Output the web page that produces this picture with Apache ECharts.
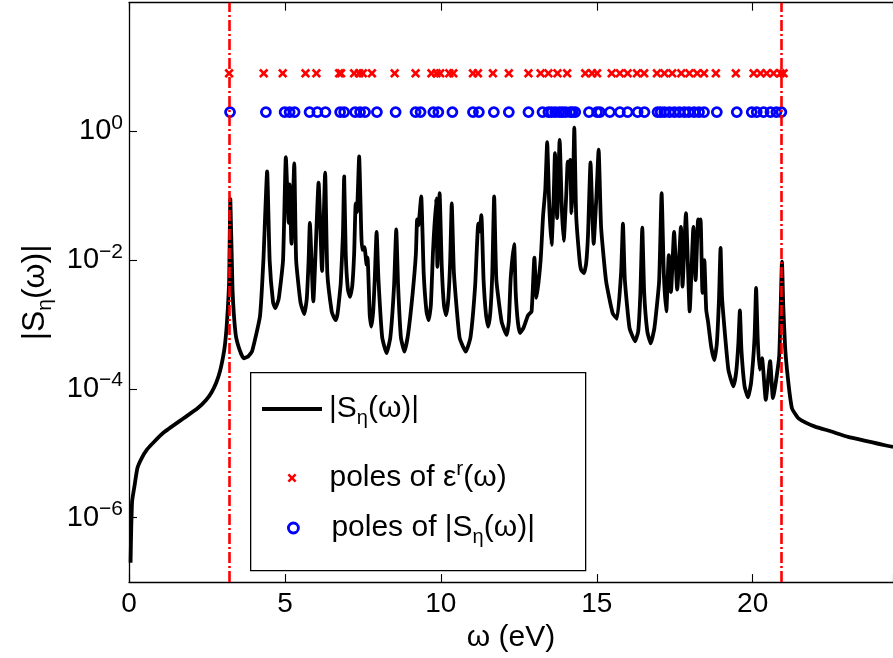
<!DOCTYPE html>
<html>
<head>
<meta charset="utf-8">
<script src="https://cdn.jsdelivr.net/npm/echarts@6/dist/echarts.min.js"></script>
<style>
  html, body { margin: 0; padding: 0; background: #fff; }
  #chart { width: 893px; height: 658px; }
</style>
</head>
<body>
<div id="chart"></div>
<script>
// ---- data: [omega (eV), |S_eta(omega)|] ----
const spectrum = [
  [0.05, 2.0e-7], [0.07, 6.3e-7], [0.10, 1.8e-6], [0.18, 3.2e-6], [0.27, 5.9e-6], [0.40, 8.3e-6],
  [0.58, 1.15e-5], [0.80, 1.5e-5], [1.11, 2.1e-5], [1.75, 3.5e-5], [2.20, 5.0e-5], [2.48, 6.8e-5],
  [2.65, 8.9e-5], [2.80, 1.26e-4], [2.92, 1.9e-4], [3.02, 3.2e-4], [3.08, 5.0e-4], [3.13, 9.1e-4],
  [3.17, 1.8e-3], [3.21, 4.6e-3], [3.25, 0.089], [3.32, 3.5e-3], [3.42, 7.1e-4], [3.55, 4.0e-4],
  [3.68, 3.0e-4], [3.82, 3.2e-4], [3.95, 3.9e-4], [4.20, 1.35e-3], [4.31, 0.010], [4.43, 0.24],
  [4.51, 0.010], [4.62, 2.2e-3], [4.69, 1.8e-3], [4.80, 2.5e-3], [4.94, 0.010], [5.03, 0.40],
  [5.12, 0.038], [5.15, 0.15], [5.21, 0.018], [5.30, 0.32], [5.36, 0.010], [5.50, 2.2e-3],
  [5.62, 1.45e-3], [5.70, 2.5e-3], [5.76, 0.010], [5.80, 0.038], [5.91, 2.3e-3], [6.08, 0.16],
  [6.19, 6.8e-3], [6.29, 0.23], [6.36, 6.3e-3], [6.50, 1.6e-3], [6.57, 1.3e-3], [6.63, 1.17e-3],
  [6.68, 1.4e-3], [6.72, 2.0e-3], [6.79, 4.4e-3], [6.86, 0.025], [6.90, 0.20], [6.95, 0.0126],
  [7.02, 3.5e-3], [7.09, 2.7e-3], [7.16, 4.0e-3], [7.22, 0.0126], [7.27, 0.076], [7.31, 0.056],
  [7.38, 0.41], [7.45, 0.025], [7.48, 0.0145], [7.55, 0.016], [7.62, 8.5e-3], [7.65, 0.011],
  [7.72, 1.4e-3], [7.77, 9.3e-4], [7.83, 1.6e-3], [7.88, 5.0e-3], [7.94, 0.0275], [8.00, 5.0e-3],
  [8.12, 6.3e-4], [8.26, 3.6e-4], [8.38, 6.3e-4], [8.50, 4.0e-3], [8.57, 0.030], [8.63, 4.0e-3],
  [8.72, 6.3e-4], [8.83, 3.8e-4], [8.95, 7.1e-4], [9.10, 3.2e-3], [9.20, 0.0126], [9.24, 0.043],
  [9.28, 0.035], [9.37, 0.098], [9.45, 6.3e-3], [9.54, 1.6e-3], [9.61, 1.17e-3], [9.68, 2.0e-3],
  [9.75, 0.014], [9.85, 0.091], [9.89, 7.9e-3], [9.96, 0.11], [10.03, 7.9e-3], [10.10, 2.0e-3],
  [10.17, 1.4e-3], [10.24, 2.5e-3], [10.30, 0.010], [10.35, 0.076], [10.42, 6.3e-3], [10.60, 6.3e-4],
  [10.80, 3.8e-4], [10.95, 6.3e-4], [11.10, 4.0e-3], [11.20, 0.037], [11.24, 0.028], [11.30, 0.050],
  [11.37, 5.0e-3], [11.45, 1.4e-3], [11.52, 9.3e-4], [11.59, 1.6e-3], [11.65, 6.3e-3], [11.71, 0.098],
  [11.78, 5.0e-3], [11.95, 1.1e-3], [12.11, 6.9e-4], [12.18, 1.1e-3], [12.24, 5.2e-3], [12.35, 0.0178],
  [12.40, 3.2e-3], [12.47, 1.1e-3], [12.54, 7.4e-4], [12.65, 8.9e-4], [12.80, 1.4e-3], [12.91, 1.6e-3],
  [13.00, 0.011], [13.07, 2.6e-3], [13.20, 0.010], [13.28, 0.050], [13.35, 0.126], [13.41, 0.68],
  [13.48, 0.063], [13.55, 0.0174], [13.62, 0.10], [13.66, 0.46], [13.73, 0.045], [13.81, 0.74],
  [13.88, 0.063], [13.94, 0.020], [14.02, 0.10], [14.07, 0.34], [14.11, 0.20], [14.15, 0.36],
  [14.19, 0.054], [14.24, 0.16], [14.28, 1.15], [14.34, 0.050], [14.45, 0.010], [14.50, 7.1e-3],
  [14.59, 6.3e-3], [14.66, 8.9e-3], [14.72, 0.025], [14.80, 0.33], [14.86, 0.050], [14.90, 0.018],
  [14.99, 0.10], [15.06, 0.52], [15.14, 0.032], [15.30, 4.7e-3], [15.51, 1.5e-3], [15.65, 1.23e-3],
  [15.78, 6.3e-3], [15.84, 0.037], [15.90, 5.0e-3], [16.05, 8.9e-4], [16.23, 5.5e-4], [16.33, 7.9e-4],
  [16.40, 3.2e-3], [16.46, 0.032], [16.52, 3.2e-3], [16.62, 7.9e-4], [16.73, 5.1e-4], [16.85, 8.9e-4],
  [17.00, 4.7e-3], [17.08, 0.11], [17.15, 6.3e-3], [17.23, 1.6e-3], [17.31, 0.012], [17.38, 3.2e-3],
  [17.48, 0.0275], [17.58, 3.5e-3], [17.70, 0.033], [17.75, 3.9e-3], [17.86, 0.054], [17.98, 1.6e-3],
  [18.10, 0.033], [18.17, 4.9e-3], [18.25, 0.043], [18.29, 0.025], [18.33, 0.043], [18.39, 3.1e-3],
  [18.45, 0.010], [18.51, 1.7e-3], [18.57, 1.1e-3], [18.67, 4.5e-4], [18.77, 2.8e-4], [18.85, 5.0e-4],
  [18.92, 2.5e-3], [18.97, 0.0155], [19.02, 2.5e-3], [19.22, 2.0e-4], [19.38, 1.1e-4], [19.47, 1.8e-4],
  [19.54, 5.0e-4], [19.59, 1.66e-3], [19.64, 4.0e-4], [19.74, 1.1e-4], [19.85, 7.4e-5], [19.95, 1.26e-4],
  [20.06, 6.3e-4], [20.11, 3.7e-3], [20.16, 6.3e-4], [20.22, 2.0e-4], [20.30, 3.0e-4], [20.42, 6.8e-5],
  [20.56, 2.7e-4], [20.65, 7.2e-5], [20.85, 3.2e-4], [20.94, 9.5e-3], [20.98, 2.0e-3], [21.04, 4.5e-4],
  [21.10, 2.0e-4], [21.18, 8.9e-5], [21.26, 5.0e-5], [21.35, 4.2e-5], [21.47, 3.5e-5], [21.70, 3.0e-5],
  [22.00, 2.6e-5], [22.50, 2.2e-5], [23.06, 1.8e-5], [24.35, 1.3e-5], [24.50, 1.26e-5]
];
const epsPoles = [
  3.21, 4.32, 4.93, 5.66, 6.01, 6.74, 6.80, 7.22, 7.38, 7.50, 7.79, 8.52, 9.19, 9.70, 9.86, 9.98,
  10.27, 10.40, 11.03, 11.19, 11.67, 12.18, 12.81, 13.20, 13.45, 13.74, 14.05, 14.63, 14.85, 15.01, 15.48, 15.74,
  15.99, 16.29, 16.52, 16.93, 17.17, 17.42, 17.71, 17.97, 18.22, 18.44, 18.82, 19.46, 20.03, 20.25, 20.45, 20.67,
  20.89, 20.99
];
const sPoles = [
  3.24, 4.39, 4.99, 5.15, 5.31, 5.79, 6.04, 6.30, 6.77, 6.90, 7.25, 7.41, 7.57, 7.95, 8.55, 9.19,
  9.35, 9.76, 9.92, 10.37, 11.03, 11.22, 11.70, 12.18, 12.81, 13.26, 13.45, 13.55, 13.67, 13.80, 13.90, 14.00,
  14.15, 14.22, 14.31, 14.75, 15.01, 15.10, 15.42, 15.74, 15.99, 16.31, 16.53, 16.95, 17.05, 17.17, 17.33, 17.49,
  17.65, 17.81, 17.95, 18.12, 18.28, 18.44, 18.85, 19.49, 19.97, 20.13, 20.35, 20.57, 20.76, 20.92
];
const epsPoleLevel = 8;     // height at which the eps poles are marked
const sPoleLevel = 2;       // height at which the S poles are marked
const bandEdges = [3.22, 20.93];
const xTicks = [0, 5, 10, 15, 20];
const yTickValues = [1e-6, 1e-4, 1e-2, 1];

// ---- build ----
const FONT = 'Liberation Sans';
const epsData = epsPoles.map(x => [x, epsPoleLevel]);
const sData = sPoles.map(x => [x, sPoleLevel]);
const crossPath = 'path://M0,2 L2,0 L5,3 L8,0 L10,2 L7,5 L10,8 L8,10 L5,7 L2,10 L0,8 L3,5 Z';

const names = {
  s: '|S\u03b7(\u03c9)|',
  eps: 'poles of \u03b5r(\u03c9)',
  sp: 'poles of |S\u03b7(\u03c9)|'
};
const rich = {
  sub: { fontSize: 20, fontFamily: FONT, color: '#000', padding: [19, 0, 0, 0] },
  sup: { fontSize: 21, fontFamily: FONT, color: '#000', padding: [0, 0, 17, 0] }
};
function legendLabel(name) {
  if (name === names.s) return '|S{sub|\u03b7}(\u03c9)|';
  if (name === names.eps) return 'poles of \u03b5{sup|r}(\u03c9)';
  return 'poles of |S{sub|\u03b7}(\u03c9)|';
}
const legendText = { fontFamily: FONT, fontSize: 30, color: '#000', rich: rich };

const chart = echarts.init(document.getElementById('chart'), null, { renderer: 'canvas' });
chart.setOption({
  backgroundColor: '#fff',
  animation: false,
  grid: { left: 129, right: -9, top: 2.7, bottom: 75.7, show: false },
  graphic: [{
    type: 'rect', left: 250, top: 372, z: 50,
    shape: { width: 335, height: 198 },
    style: { fill: '#fff', stroke: '#000', lineWidth: 1.3 }
  }],
  legend: [
    {
      left: 262, top: 394, z: 60, padding: 0, selectedMode: false, itemGap: 0,
      itemWidth: 60, itemHeight: 4,
      data: [{ name: names.s, icon: 'rect', itemStyle: { color: '#000' } }],
      formatter: legendLabel,
      textStyle: Object.assign({ padding: [0, 0, 0, 2] }, legendText)
    },
    {
      left: 287.5, top: 459, z: 60, padding: 0, selectedMode: false, itemGap: 0,
      itemWidth: 9, itemHeight: 9,
      data: [{ name: names.eps, icon: crossPath, itemStyle: { color: '#ff0000', opacity: 1 } }],
      formatter: legendLabel,
      textStyle: Object.assign({ padding: [0, 0, 0, 28] }, legendText)
    },
    {
      left: 287, top: 513, z: 60, padding: 0, selectedMode: false, itemGap: 0,
      itemWidth: 10, itemHeight: 10,
      data: [{ name: names.sp, icon: 'circle',
               itemStyle: { color: 'rgba(0,0,0,0)', borderColor: '#0000ff', borderWidth: 2.8, opacity: 1 } }],
      formatter: legendLabel,
      textStyle: Object.assign({ padding: [0, 0, 0, 28] }, legendText)
    }
  ],
  xAxis: [
    {
      type: 'value', min: 0, max: 24.5, interval: 5,
      name: '\u03c9 (eV)', nameLocation: 'middle', nameGap: 39,
      nameTextStyle: { fontFamily: FONT, fontSize: 30, color: '#000' },
      axisLine: { show: true, onZero: false, lineStyle: { color: '#000', width: 1.3 } },
      axisTick: { show: true, inside: true, length: 8, lineStyle: { color: '#000', width: 1.1 } },
      axisLabel: { fontFamily: FONT, fontSize: 28, color: '#000', margin: 8,
                   customValues: xTicks },
      splitLine: { show: false }
    },
    {
      type: 'value', min: 0, max: 24.5, interval: 5, position: 'top',
      axisLine: { show: true, onZero: false, lineStyle: { color: '#000', width: 1.3 } },
      axisTick: { show: true, inside: true, length: 8, lineStyle: { color: '#000', width: 1.1 } },
      axisLabel: { show: false },
      splitLine: { show: false }
    }
  ],
  yAxis: {
    type: 'log', logBase: 10, min: 1e-7, max: 1e2,
    name: '|S{sub|\u03b7}(\u03c9)|', nameLocation: 'middle', nameGap: 72, nameRotate: 90,
    nameTextStyle: { fontFamily: FONT, fontSize: 32, color: '#000',
      rich: { sub: { fontSize: 21, fontFamily: FONT, color: '#000', padding: [20, 0, 0, 0] } } },
    axisLine: { show: true, onZero: false, lineStyle: { color: '#000', width: 1.3 } },
    axisTick: { show: true, inside: true, length: 8, lineStyle: { color: '#000', width: 1.1 },
                customValues: yTickValues },
    axisLabel: {
      fontFamily: FONT, fontSize: 29, color: '#000', margin: 6,
      customValues: yTickValues,
      formatter: function (v) {
        const e = Math.round(Math.log10(v));
        if (e % 2 !== 0 || e > 0 || e < -6) return '';
        return '10{sup|' + (e < 0 ? '\u2212' + (-e) : e) + '}';
      },
      rich: rich
    },
    splitLine: { show: false },
    minorTick: { show: false }
  },
  series: [
    {
      name: names.s, type: 'line', data: spectrum, showSymbol: false, symbol: 'none',
      smooth: 0.15,
      lineStyle: { color: '#000', width: 3.8, join: 'round' }, itemStyle: { color: '#000' },
      z: 2, silent: true
    },
    {
      name: names.eps, type: 'scatter', data: epsData, symbol: crossPath, symbolSize: 9.5,
      itemStyle: { color: '#ff0000', opacity: 1 }, z: 3, silent: true
    },
    {
      name: names.sp, type: 'scatter', data: sData, symbol: 'circle', symbolSize: 9,
      itemStyle: { color: 'rgba(0,0,0,0)', borderColor: '#0000ff', borderWidth: 2.8, opacity: 1 },
      z: 3, silent: true
    },
    {
      name: 'band edges', type: 'line', data: [], z: 4, silent: true,
      markLine: {
        silent: true, symbol: ['none', 'none'], animation: false,
        label: { show: false },
        lineStyle: { color: '#ff0000', width: 2.6, type: [11, 3, 2, 3], opacity: 1 },
        emphasis: { disabled: true },
        data: bandEdges.map(x => ({ xAxis: x }))
      }
    }
  ]
});
</script>
</body>
</html>
